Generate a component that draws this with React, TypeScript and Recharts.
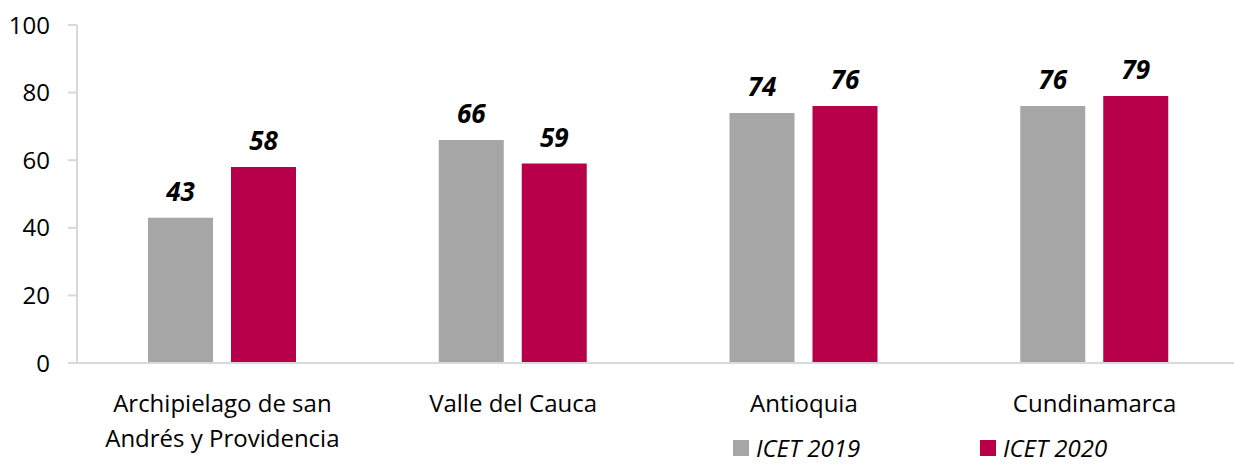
import React from "react";
import { BarChart, Bar, XAxis, YAxis, LabelList, Legend } from "recharts";

const categories = [
  "Archipielago de san Andrés y Providencia",
  "Valle del Cauca",
  "Antioquia",
  "Cundinamarca",
];
const icet2019 = [43, 66, 74, 76];
const icet2020 = [58, 59, 76, 79];
const yTicks = [0, 20, 40, 60, 80, 100];

const GRAY = "#A6A6A6";
const CRIMSON = "#B8004A";
const FONT = "'Open Sans', 'Noto Sans', sans-serif";

const data = categories.map((name, i) => ({
  name,
  y2019: icet2019[i],
  y2020: icet2020[i],
}));

// greedy wrap by character count
function wrap(label: string, max = 20) {
  const lines: string[] = [];
  let cur = "";
  label.split(" ").forEach((w) => {
    const next = cur ? cur + " " + w : w;
    if (next.length > max && cur) {
      lines.push(cur);
      cur = w;
    } else cur = next;
  });
  if (cur) lines.push(cur);
  return lines;
}

const CategoryTick = ({ x, y, payload }: any) => (
  <text x={x} y={y} textAnchor="middle" style={{ fontFamily: FONT, fontSize: 24, fill: "#000" }}>
    {wrap(payload.value).map((line, i) => (
      <tspan key={i} x={x} dy={i === 0 ? 41 : 35}>
        {line}
      </tspan>
    ))}
  </text>
);

const LegendBox = ({ payload }: any) => (
  <div style={{ display: "flex", fontFamily: FONT, fontSize: 24, lineHeight: "24px", fontStyle: "italic", color: "#000" }}>
    {payload.map((p: any, i: number) => (
      <div key={i} style={{ display: "flex", alignItems: "center", width: i === 0 ? 247 : 200, whiteSpace: "nowrap" }}>
        <span style={{ width: 16, height: 16, background: p.color, marginRight: 7, display: "inline-block", flex: "none" }} />
        <span>{p.value}</span>
      </div>
    ))}
  </div>
);

export default function App() {
  const labelStyle = { fontFamily: FONT, fontSize: 26, fontWeight: 700, fontStyle: "italic" as const, fill: "#000" };
  return (
    <div style={{ position: "fixed", left: 0, top: 0, width: 1234, height: 464, overflow: "hidden", background: "#fff" }}>
      <BarChart
        width={1240}
        height={464}
        data={data}
        margin={{ top: 25, right: 0, left: 0, bottom: 0 }}
        barSize={65}
        barGap={18}
      >
        <XAxis
          dataKey="name"
          height={101}
          tickLine={false}
          axisLine={{ stroke: "#D9D9D9", strokeWidth: 2 }}
          tick={<CategoryTick />}
          interval={0}
        />
        <YAxis
          width={77}
          domain={[0, 100]}
          ticks={yTicks}
          tickSize={9}
          tickMargin={18}
          axisLine={{ stroke: "#D9D9D9", strokeWidth: 2 }}
          tickLine={{ stroke: "#D9D9D9", strokeWidth: 2 }}
          tick={{ fontFamily: FONT, fontSize: 24, fill: "#000" }}
        />
        <Legend
          verticalAlign="middle"
          align="center"
          content={<LegendBox />}
          wrapperStyle={{ position: "absolute", left: 733, top: 436, width: 480 }}
        />
        <Bar dataKey="y2019" name="ICET 2019" fill={GRAY} isAnimationActive={false}>
          <LabelList dataKey="y2019" position="top" offset={17} style={labelStyle} />
        </Bar>
        <Bar dataKey="y2020" name="ICET 2020" fill={CRIMSON} isAnimationActive={false}>
          <LabelList dataKey="y2020" position="top" offset={17} style={labelStyle} />
        </Bar>
      </BarChart>
    </div>
  );
}
